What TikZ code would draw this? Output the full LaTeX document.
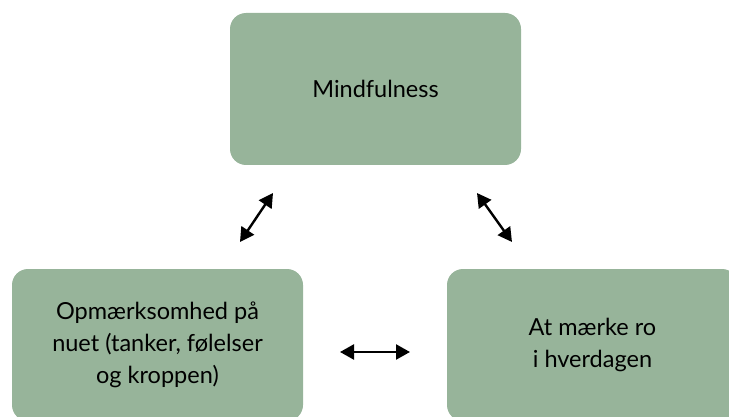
\documentclass[tikz,border=0pt]{standalone}
\usepackage{fontspec}
\setmainfont{Lato}
\usetikzlibrary{arrows.meta}
\definecolor{sage}{RGB}{151,180,154}

\begin{document}
\begin{tikzpicture}[x=1pt,y=-1pt,
  boks/.style={fill=sage, rounded corners=16pt, minimum width=291pt, minimum height=152pt,
    align=center, inner sep=0pt, font=\fontsize{23.5}{32}\selectfont},
  pil/.style={line width=2.4pt, {Triangle[length=14pt,width=15pt]}-{Triangle[length=14pt,width=15pt]}}]
\useasboundingbox (0,0) rectangle (729,417);
\clip (0,0) rectangle (729,417);

 \node[boks] (mind) at (375.5, 89) {Mindfulness};
 \node[boks] (nuet) at (157.5, 345) {Opmærksomhed på\\nuet (tanker, følelser\\og kroppen)};
 \node[boks] (ro) at (592.5, 345) {At mærke ro\\i hverdagen};

 \coordinate (v1) at (273,193);
 \coordinate (v2) at (240,242);
 \coordinate (h1) at (477,193);
 \coordinate (h2) at (512,242);
 \coordinate (m1) at (340,352);
 \coordinate (m2) at (410,352);

\draw[pil] (v1)--(v2);
\draw[pil] (h1)--(h2);
\draw[pil] (m1)--(m2);
\end{tikzpicture}
\end{document}
